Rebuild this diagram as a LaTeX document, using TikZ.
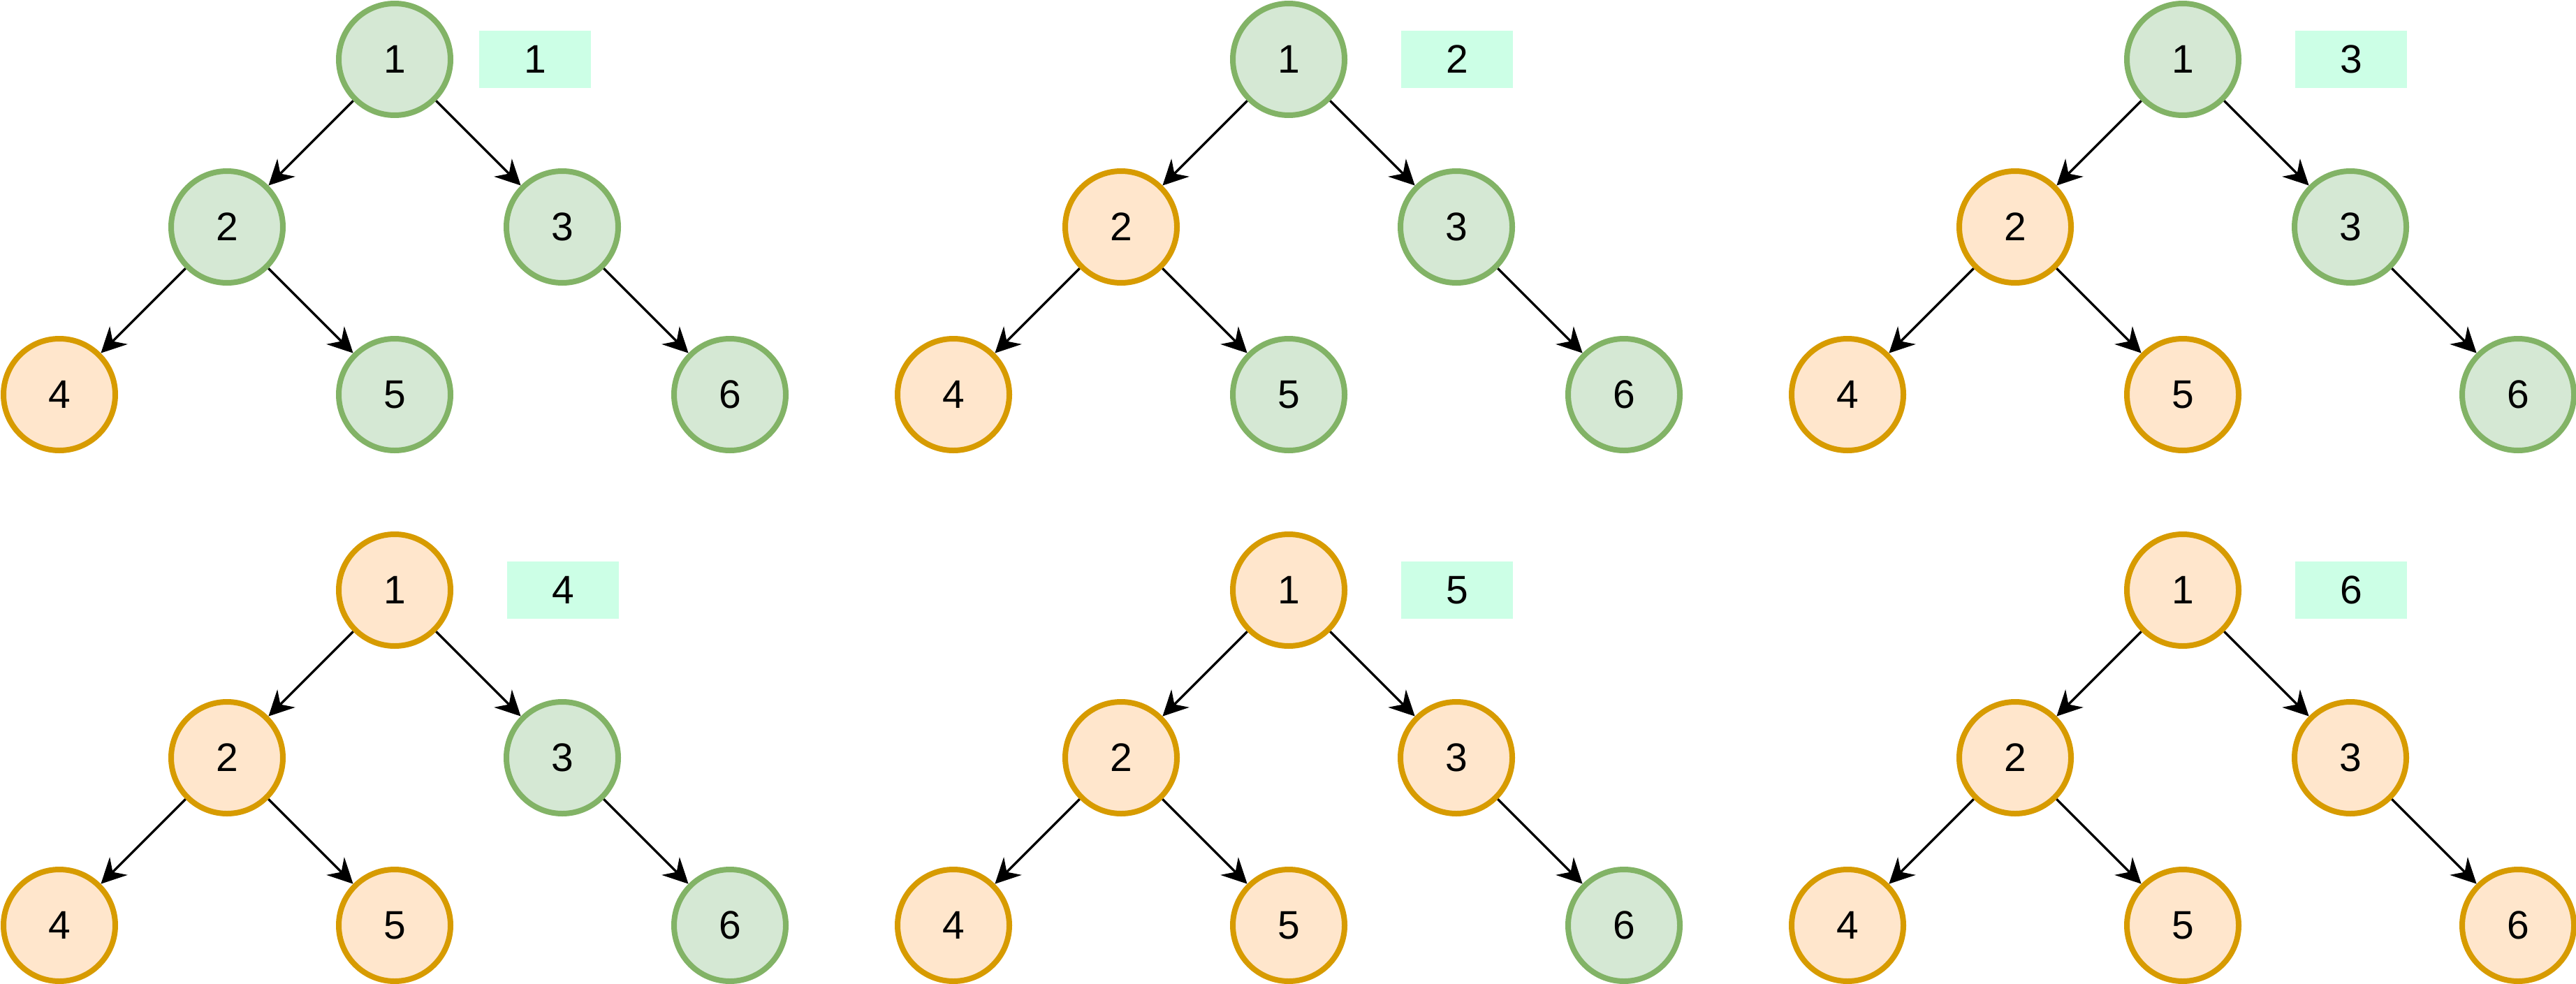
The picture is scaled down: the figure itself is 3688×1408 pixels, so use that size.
\documentclass[tikz,border=0pt]{standalone}
\usepackage{fontspec}
\setmainfont{Liberation Sans}
\usetikzlibrary{arrows.meta}

\definecolor{grnfill}{HTML}{D5E8D4}
\definecolor{grnline}{HTML}{82B366}
\definecolor{orgfill}{HTML}{FFE6CC}
\definecolor{orgline}{HTML}{D79B00}
\definecolor{tagfill}{HTML}{CCFFE6}

\tikzset{
  vertex/.style={circle, minimum size=160pt, inner sep=0pt, line width=8pt,
    font=\fontsize{57}{60}\selectfont},
  grn/.style={vertex, draw=grnline, fill=grnfill},
  org/.style={vertex, draw=orgline, fill=orgfill},
  tag/.style={rectangle, minimum width=160pt, minimum height=82pt, inner sep=0pt,
    fill=tagfill, font=\fontsize{57}{60}\selectfont},
  link/.style={line width=3.3pt, -{Stealth[length=36pt, width=36pt, inset=12pt]}}
}

% #1 name prefix, #2-#7 styles of vertices 1..6, #8 step label, #9 x of the label box
\newcommand\heaptree[9]{%
  \node[#2] (#1n1) at (565,85) {1};
  \node[#3] (#1n2) at (325,325) {2};
  \node[#4] (#1n3) at (805,325) {3};
  \node[#5] (#1n4) at (85,565) {4};
  \node[#6] (#1n5) at (565,565) {5};
  \node[#7] (#1n6) at (1045,565) {6};
  \node[tag] (#1tag) at (#9,85) {#8};
  \draw[link] (#1n1) -- (#1n2);
  \draw[link] (#1n1) -- (#1n3);
  \draw[link] (#1n2) -- (#1n4);
  \draw[link] (#1n2) -- (#1n5);
  \draw[link] (#1n3) -- (#1n6);
}

\begin{document}
\begin{tikzpicture}[x=1pt, y=-1pt]
  \useasboundingbox (0,0) rectangle (3688,1408);
  \begin{scope}[shift={(0,0)}]
    \heaptree{a}{grn}{grn}{grn}{org}{grn}{grn}{1}{766}
  \end{scope}
  \begin{scope}[shift={(1280,0)}]
    \heaptree{b}{grn}{org}{grn}{org}{grn}{grn}{2}{806}
  \end{scope}
  \begin{scope}[shift={(2560,0)}]
    \heaptree{c}{grn}{org}{grn}{org}{org}{grn}{3}{806}
  \end{scope}
  \begin{scope}[shift={(0,760)}]
    \heaptree{d}{org}{org}{grn}{org}{org}{grn}{4}{806}
  \end{scope}
  \begin{scope}[shift={(1280,760)}]
    \heaptree{e}{org}{org}{org}{org}{org}{grn}{5}{806}
  \end{scope}
  \begin{scope}[shift={(2560,760)}]
    \heaptree{f}{org}{org}{org}{org}{org}{org}{6}{806}
  \end{scope}
\end{tikzpicture}
\end{document}
